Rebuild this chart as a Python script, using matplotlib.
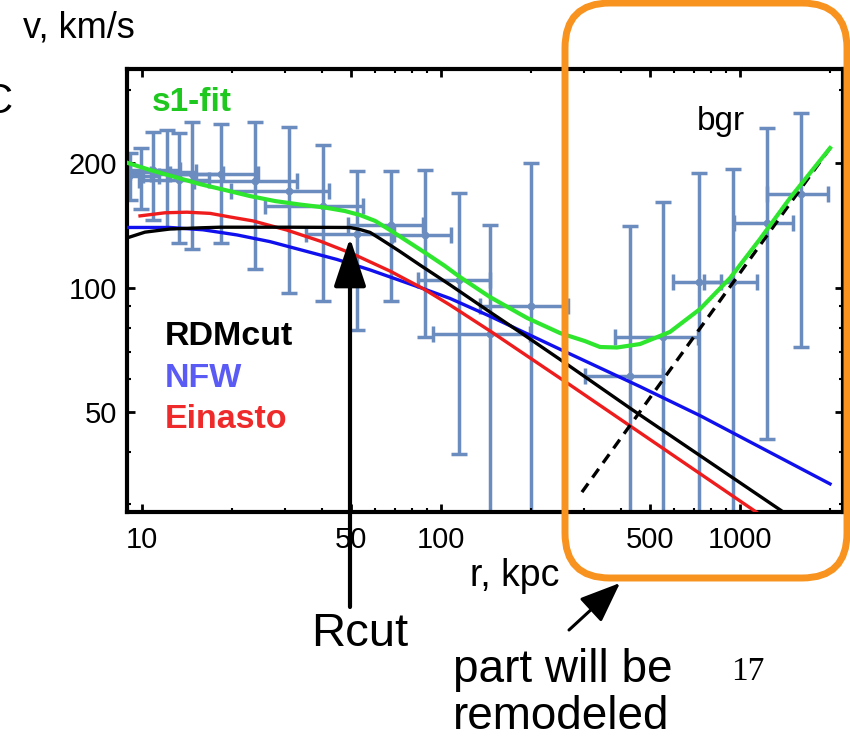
import matplotlib
matplotlib.use('Agg')
import matplotlib.pyplot as plt
from matplotlib.patches import FancyBboxPatch, FancyArrowPatch
from matplotlib.ticker import NullFormatter

plt.rcParams['font.family'] = ['Liberation Sans', 'DejaVu Sans']

# точки с ошибками: r в кпк, v в км/с
r_data = [9.1, 9.9, 10.9, 12.1, 13.3, 14.7, 18.4, 23.9, 31.0, 40.3, 52.4, 68.0,
          88.4, 115, 146, 200, 428, 553, 730, 948, 1231, 1600]
v_data = [187, 186, 192, 190, 182, 188, 188, 181, 171, 157, 135, 142,
          134, 104.5, 77.4, 90, 61, 76, 103, 103, 143, 168]
v_err = [24, 31, 46, 51, 54, 64, 60, 70, 74, 64, 56, 49,
         58, 65, 64, 110, 80, 85, 86, 90, 100, 96]
r_err = [1.0, 1.5, 2.5, 3.0, 3.5, 4.0, 6.0, 9.0, 11.2, 14.5, 17, 19,
         20, 31, 52, 65, 124, 171, 132, 192, 278, 370]

# кривые моделей
green_r = [8.98, 10.64, 12.9, 15.6, 18.95, 22.97, 27.9, 33.8, 40.9, 47.7,
           53.6, 60.2, 67.5, 77.0, 89.8, 103.1, 115.7, 145.9, 194.0, 250.0, 303.1,
           340.2, 387.8, 463.0, 583.3, 734.9, 925.9, 1166.6, 1470, 2000]
green_v = [200, 192.4, 185.0, 177.9, 172.1, 166.4, 161.8, 158.7, 156.1, 153.1,
           149.7, 144.9, 137.7, 129.5, 120.5, 112.7, 106.0, 94.8, 84.4, 77.6, 74.2,
           71.8, 71.6, 73.0, 78.1, 88.7, 105.4, 131.0, 164.6, 217.4]

black_r = [8.91, 10.23, 12.4, 15.6, 18.2, 30.5, 49.6, 53.6, 57.9, 62.5, 67.5, 72.9,
           85.1, 107.2, 145.9, 188.1, 250, 438.6, 1361, 1420]
black_v = [131.8, 136.1, 138.5, 139.4, 139.9, 139.9, 139.7, 138.1, 135.9, 131.3, 126.7, 122.2,
           113.3, 101.5, 87.2, 77.1, 67.0, 50.5, 29.0, 28.4]

red_r = [9.85, 11.94, 14.14, 16.9, 19.7, 23.5, 30.5, 39.4, 50.8, 67.5, 87.1, 107.2,
         145.9, 263.9, 1105, 1160]
red_v = [149.0, 151.6, 152.1, 151.1, 148.1, 144.9, 137.7, 129.5, 120.5, 109.6, 99.4, 90.7,
         78.5, 58.8, 29.0, 28.3]

blue_r = [8.91, 12.4, 16.0, 20.8, 26.8, 34.6, 44.9, 57.9, 87.1, 107.2, 145.9, 250,
          463, 735, 2000]
blue_v = [139.7, 139.7, 137.9, 134.0, 129.1, 122.9, 116.9, 110.3, 99.4, 94.1, 85.2, 70.9,
          57.6, 49.0, 33.5]

bgr_r = [296, 2000]
bgr_v = [32.0, 217.4]

x_ticks = [10, 50, 100, 500, 1000]
y_ticks = [50, 100, 200]

W, H = 850, 738
fig = plt.figure(figsize=(W / 100, H / 100), dpi=100)
ax = fig.add_axes([127 / W, 1 - 512 / H, 716 / W, 443 / H])
ax.set_xscale('log')
ax.set_yscale('log')

ax.errorbar(r_data, v_data, xerr=r_err, yerr=v_err, fmt='o', color='#6b8cbe',
            ms=4.5, lw=2.5, capsize=6, capthick=2.5, zorder=1)

ax.plot(blue_r, blue_v, color='#1010ee', lw=2.4, zorder=3)
ax.plot(red_r, red_v, color='#ee1c1c', lw=2.4, zorder=3)
ax.plot(black_r, black_v, color='black', lw=2.4, zorder=4)
ax.plot(bgr_r, bgr_v, color='black', lw=2.4, ls=(0, (3.2, 2.2)), zorder=4)
ax.plot(green_r, green_v, color='#2ee62e', lw=3, zorder=5)

ax.set_xlim(8.91, 2210)
ax.set_ylim(28.65, 337.6)

ax.set_xticks(x_ticks)
ax.set_xticklabels([str(t) for t in x_ticks])
ax.set_yticks(y_ticks)
ax.set_yticklabels([str(t) for t in y_ticks])
ax.xaxis.set_minor_formatter(NullFormatter())
ax.yaxis.set_minor_formatter(NullFormatter())
ax.tick_params(which='both', direction='in', top=True, right=True)
ax.tick_params(which='major', length=6, width=2, labelsize=21)
ax.tick_params(which='minor', length=3, width=1.5)
ax.tick_params(axis='x', pad=10)
ax.tick_params(axis='y', pad=7)
for s in ax.spines.values():
    s.set_linewidth(3)


def ft(x, y, s, **kw):
    fig.text(x / W, 1 - y / H, s, va='baseline', **kw)


ft(23, 38, 'v, km/s', fontsize=26)
ft(13, 113, 'C', fontsize=30, ha='right')
ft(152, 111, 's1-fit', fontsize=24, fontweight='bold', color='#1ec81e')
ft(165, 345, 'RDMcut', fontsize=24.5, fontweight='bold', color='black')
ft(165, 387, 'NFW', fontsize=24.5, fontweight='bold', color='#5a5af5')
ft(165, 428, 'Einasto', fontsize=24.5, fontweight='bold', color='#ee2a2a')
ft(697, 130, 'bgr', fontsize=24)
ft(470, 586, 'r, kpc', fontsize=27)
ft(311, 646, 'Rcut', fontsize=34)
ft(453, 682, 'part will be', fontsize=33)
ft(453, 729, 'remodeled', fontsize=33)
ft(731, 680, '17', fontsize=24, family=['Liberation Serif'])

# оранжевая рамка
box = FancyBboxPatch((5.65, 1.60), 2.82, 5.75, boxstyle='round,pad=0,rounding_size=0.45',
                     transform=fig.dpi_scale_trans, fill=False, ec='#f7931e', lw=5, zorder=6)
fig.add_artist(box)

# стрелки
a1 = FancyArrowPatch((3.50, (H - 607) / 100), (3.50, (H - 238) / 100),
                     arrowstyle='-|>,head_length=1.5,head_width=0.5', mutation_scale=20,
                     lw=3, color='black', shrinkA=0, shrinkB=0,
                     transform=fig.dpi_scale_trans, zorder=7)
fig.add_artist(a1)
a2 = FancyArrowPatch((5.69, (H - 630) / 100), (6.20, (H - 583) / 100),
                     arrowstyle='-|>,head_length=1.25,head_width=0.5', mutation_scale=20,
                     lw=2.2, color='black', shrinkA=0, shrinkB=0,
                     transform=fig.dpi_scale_trans, zorder=7)
fig.add_artist(a2)

fig.savefig('out.png', dpi=100)
